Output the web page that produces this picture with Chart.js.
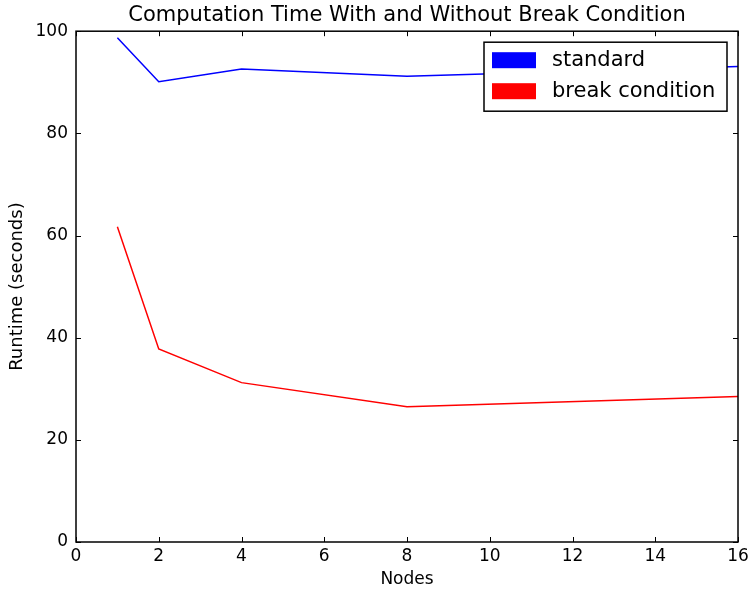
<!DOCTYPE html>
<html>
<head>
<meta charset="utf-8">
<script src="https://cdn.jsdelivr.net/npm/chart.js@4/dist/chart.umd.min.js"></script>
<style>
  html, body { margin: 0; padding: 0; background: #fff; }
  #wrap { width: 749px; height: 592px; }
</style>
</head>
<body>
<div id="wrap"><canvas id="plot"></canvas></div>
<script>
let nodes = [1, 2, 4, 8, 16];
let standard = [98.7, 90.1, 92.6, 91.2, 93.1];
let breakCond = [61.7, 37.8, 31.2, 26.5, 28.5];
let xTicks = [0, 2, 4, 6, 8, 10, 12, 14, 16];
let yTicks = [0, 20, 40, 60, 80, 100];

const FONT = "'DejaVu Sans', sans-serif";

function toPoints(xs, ys) {
    let pts = [];
    for (let i = 0; i < xs.length; i++) {
        pts.push({ x: xs[i], y: ys[i] });
    }
    return pts;
}

// frame, inward ticks on all sides and the legend box
const frame = {
    id: 'frame',
    afterDatasetsDraw(chart) {
        const ctx = chart.ctx;
        const a = chart.chartArea;
        const xs = chart.scales.x;
        const ys = chart.scales.y;
        ctx.save();
        ctx.strokeStyle = '#000';
        ctx.lineWidth = 1;
        ctx.beginPath();
        xTicks.forEach(function(v) {
            let px = Math.round(xs.getPixelForValue(v)) + 0.5;
            ctx.moveTo(px, a.bottom); ctx.lineTo(px, a.bottom - 5);
            ctx.moveTo(px, a.top); ctx.lineTo(px, a.top + 5);
        });
        yTicks.forEach(function(v) {
            let py = Math.round(ys.getPixelForValue(v)) + 0.5;
            ctx.moveTo(a.left, py); ctx.lineTo(a.left + 5, py);
            ctx.moveTo(a.right, py); ctx.lineTo(a.right - 5, py);
        });
        ctx.stroke();
        ctx.lineWidth = 1.5;
        ctx.strokeRect(a.left, a.top, a.right - a.left, a.bottom - a.top);

        const bx = a.right - 254, by = a.top + 11, bw = 243, bh = 69;
        ctx.fillStyle = '#fff';
        ctx.fillRect(bx, by, bw, bh);
        ctx.strokeRect(bx, by, bw, bh);
        ctx.font = '21px ' + FONT;
        ctx.textBaseline = 'middle';
        chart.data.datasets.forEach(function(ds, i) {
            let cy = by + 18 + i * 31;
            ctx.fillStyle = ds.borderColor;
            ctx.fillRect(bx + 8, cy - 8, 44, 16);
            ctx.fillStyle = '#000';
            ctx.fillText(ds.label, bx + 68, cy);
        });
        ctx.restore();
    }
};

const ctx = document.getElementById('plot').getContext('2d');

new Chart(ctx, {
    type: 'line',
    data: {
        datasets: [{
            label: 'standard',
            data: toPoints(nodes, standard),
            borderColor: '#0000ff',
            borderWidth: 1.5,
            pointRadius: 0,
            fill: false
        }, {
            label: 'break condition',
            data: toPoints(nodes, breakCond),
            borderColor: '#ff0000',
            borderWidth: 1.5,
            pointRadius: 0,
            fill: false
        }]
    },
    options: {
        responsive: true,
        maintainAspectRatio: false,
        animation: false,
        layout: { padding: { left: 0, right: 11, top: 0, bottom: 0 } },
        plugins: {
            legend: { display: false },
            tooltip: { enabled: false },
            title: {
                display: true,
                fullSize: false,
                text: 'Computation Time With and Without Break Condition',
                color: '#000',
                font: { family: FONT, size: 21, weight: 'normal', lineHeight: 1.2 },
                padding: { top: 3, bottom: 3 }
            }
        },
        scales: {
            x: {
                type: 'linear',
                min: 0,
                max: 16,
                afterBuildTicks: function(scale) {
                    scale.ticks = xTicks.map(function(v) { return { value: v }; });
                },
                afterFit: function(scale) {
                    scale.height = 50;
                    scale.paddingLeft = 0;
                    scale.paddingRight = 0;
                },
                grid: { display: false, drawTicks: false },
                border: { display: false },
                ticks: {
                    color: '#000',
                    padding: 4,
                    maxRotation: 0,
                    font: { family: FONT, size: 17 }
                },
                title: {
                    display: true,
                    text: 'Nodes',
                    color: '#000',
                    font: { family: FONT, size: 17 },
                    padding: { top: 0, bottom: 2 }
                }
            },
            y: {
                min: 0,
                max: 100,
                afterBuildTicks: function(scale) {
                    scale.ticks = yTicks.map(function(v) { return { value: v }; });
                },
                afterFit: function(scale) { scale.width = 76; },
                grid: { display: false, drawTicks: false },
                border: { display: false },
                ticks: {
                    color: '#000',
                    padding: 8,
                    font: { family: FONT, size: 17 }
                },
                title: {
                    display: true,
                    text: 'Runtime (seconds)',
                    color: '#000',
                    font: { family: FONT, size: 18 },
                    padding: { top: 7, bottom: 0 }
                }
            }
        }
    },
    plugins: [frame]
});
</script>
</body>
</html>
